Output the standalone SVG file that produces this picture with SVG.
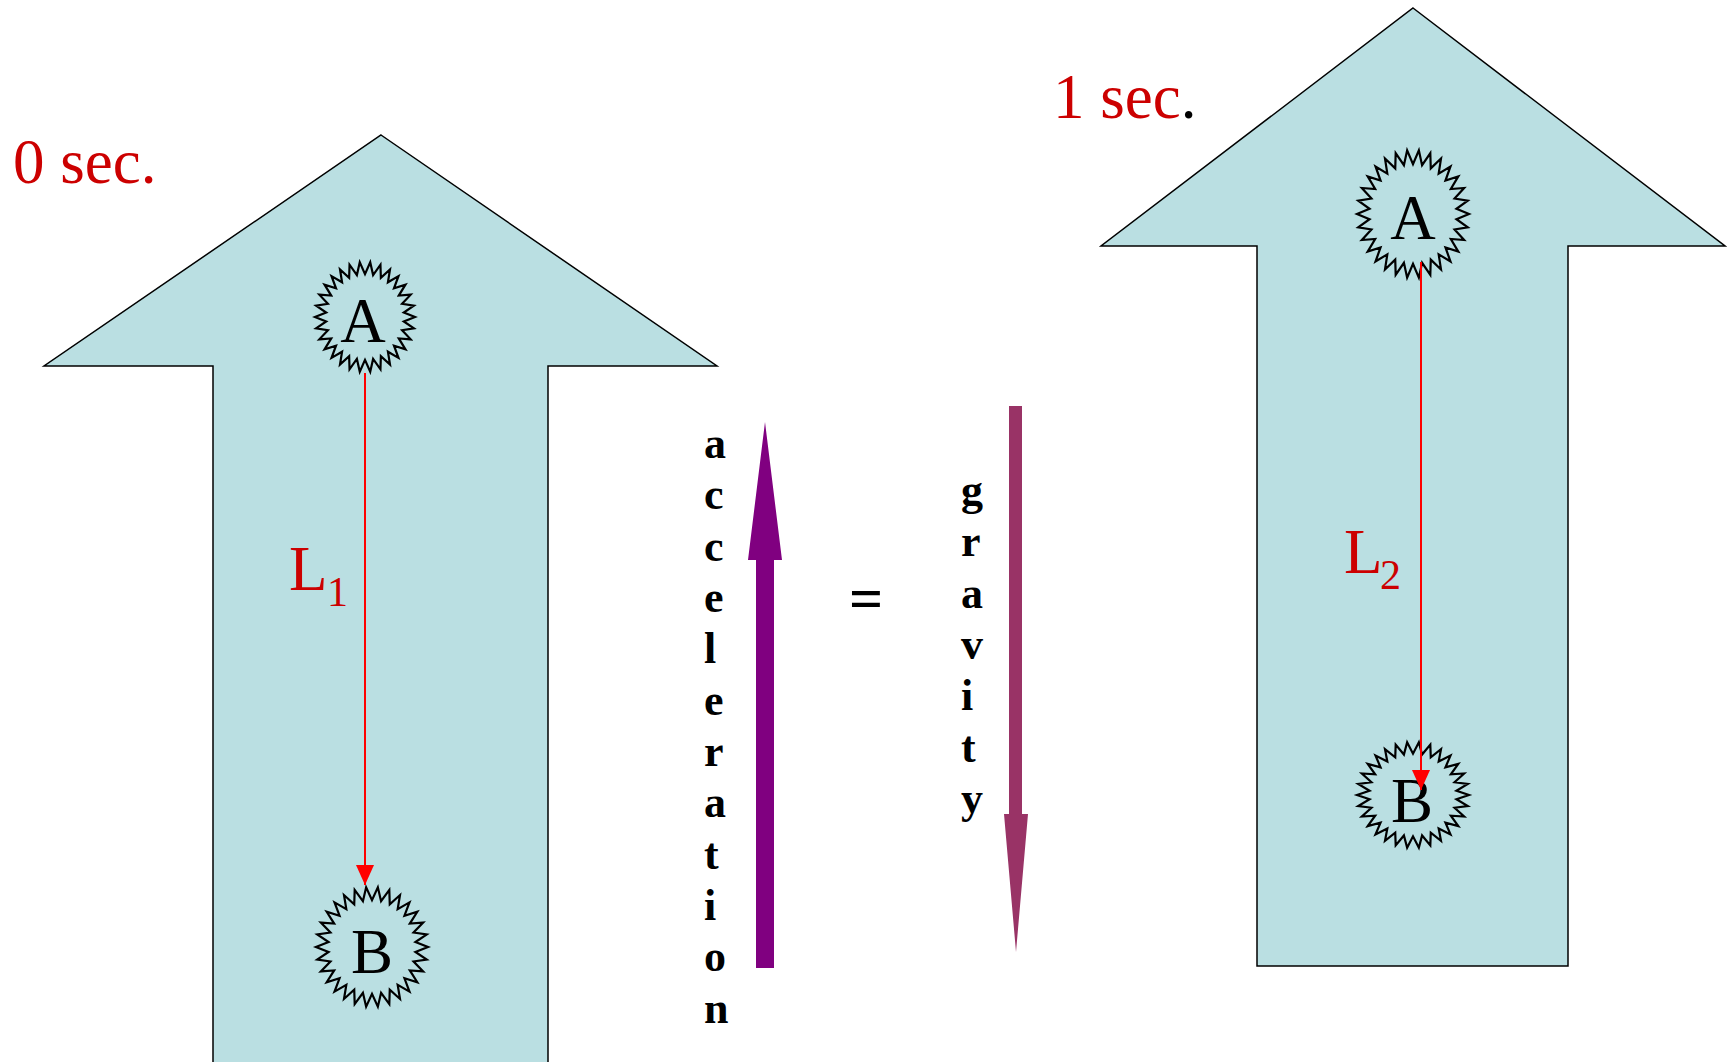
<svg xmlns="http://www.w3.org/2000/svg" xmlns:xlink="http://www.w3.org/1999/xlink" width="1727" height="1062" viewBox="0 0 1727 1062">
<style>
.big{fill:#BADFE2;stroke:#000;stroke-width:1.5}
.star{fill:none;stroke:#000;stroke-width:2.2}
.lbl{font-family:"Liberation Serif",serif;font-size:63px;fill:#000;text-anchor:middle}
.red{font-family:"Liberation Serif",serif;fill:#CC0000}
.vert{font-family:"Liberation Serif",serif;font-size:44px;font-weight:bold;fill:#000}
.rl{stroke:#FF0000;stroke-width:2;fill:none}
</style>
<defs>
<polygon id="star" vector-effect="non-scaling-stroke" points="100,0 77.57,8.15 97.81,20.79 74.19,24.10 91.35,40.67 67.55,39 80.90,58.78 57.96,52.19 66.91,74.31 45.85,63.10 50,86.60 31.72,71.25 30.90,95.11 16.22,76.29 10.45,99.45 0,78 -10.45,99.45 -16.22,76.29 -30.90,95.11 -31.72,71.25 -50,86.60 -45.85,63.10 -66.91,74.31 -57.96,52.19 -80.90,58.78 -67.55,39 -91.35,40.67 -74.19,24.10 -97.81,20.79 -77.57,8.15 -100,0 -77.57,-8.15 -97.81,-20.79 -74.19,-24.10 -91.35,-40.67 -67.55,-39 -80.90,-58.78 -57.96,-52.19 -66.91,-74.31 -45.85,-63.10 -50,-86.60 -31.72,-71.25 -30.90,-95.11 -16.22,-76.29 -10.45,-99.45 0,-78 10.45,-99.45 16.22,-76.29 30.90,-95.11 31.72,-71.25 50,-86.60 45.85,-63.10 66.91,-74.31 57.96,-52.19 80.90,-58.78 67.55,-39 91.35,-40.67 74.19,-24.10 97.81,-20.79 77.57,-8.15"/>
<marker id="ah" markerUnits="userSpaceOnUse" markerWidth="20" markerHeight="20" viewBox="0 0 20 20" refX="20" refY="10" orient="auto">
<path d="M0,1 L20,10 L0,19 Z" fill="#FF0000"/>
</marker>
</defs>

<g id="arrow-0sec">
<polygon class="big" points="381,135 717,366 548,366 548,1070 213,1070 213,366 44,366"/>
</g>
<g id="arrow-1sec">
<polygon class="big" points="1413,8 1725,246 1568,246 1568,966 1257,966 1257,246 1101,246"/>
</g>

<g id="label-0sec"><text class="red" x="13" y="183" font-size="63">0 sec.</text></g>
<g id="label-1sec"><text class="red" x="1053" y="118" font-size="63">1 sec<tspan fill="#000">.</tspan></text></g>

<g id="node-A1">
<use xlink:href="#star" class="star" transform="translate(365,317) scale(0.5,0.55)"/>
<text class="lbl" x="363" y="342">A</text>
</g>
<g id="node-B1">
<use xlink:href="#star" class="star" transform="translate(372,947) scale(0.56,0.6)"/>
<text class="lbl" x="372" y="973">B</text>
</g>
<g id="node-A2">
<use xlink:href="#star" class="star" transform="translate(1413,214) scale(0.56,0.64)"/>
<text class="lbl" x="1413" y="239">A</text>
</g>
<g id="node-B2">
<use xlink:href="#star" class="star" transform="translate(1413,795) scale(0.56,0.53)"/>
<text class="lbl" x="1412" y="822">B</text>
</g>

<g id="connectors">
<line class="rl" x1="365" y1="373" x2="365" y2="885" marker-end="url(#ah)"/>
<line class="rl" x1="1421" y1="262" x2="1421" y2="790" marker-end="url(#ah)"/>
</g>

<g id="label-L1">
<text class="red" x="289" y="590" font-size="63">L</text>
<text class="red" x="327" y="606" font-size="42">1</text>
</g>
<g id="label-L2">
<text class="red" x="1344" y="573" font-size="63">L</text>
<text class="red" x="1380" y="589" font-size="42">2</text>
</g>

<g id="acceleration">
<polygon fill="#800080" points="765,422 782,560 774,560 774,968 756,968 756,560 748,560"/>
<text class="vert" x="704" y="458">a</text>
<text class="vert" x="704" y="509">c</text>
<text class="vert" x="704" y="561">c</text>
<text class="vert" x="704" y="612">e</text>
<text class="vert" x="704" y="663">l</text>
<text class="vert" x="704" y="715">e</text>
<text class="vert" x="704" y="766">r</text>
<text class="vert" x="704" y="817">a</text>
<text class="vert" x="704" y="869">t</text>
<text class="vert" x="704" y="920">i</text>
<text class="vert" x="704" y="971">o</text>
<text class="vert" x="704" y="1023">n</text>
</g>

<g id="equals"><text class="vert" x="866" y="618" text-anchor="middle" style="font-size:60px">=</text></g>

<g id="gravity">
<polygon fill="#993366" points="1009,406 1022,406 1022,814 1028,814 1016,952 1004,814 1009,814"/>
<text class="vert" x="961" y="505">g</text>
<text class="vert" x="961" y="556">r</text>
<text class="vert" x="961" y="608">a</text>
<text class="vert" x="961" y="659">v</text>
<text class="vert" x="961" y="710">i</text>
<text class="vert" x="961" y="762">t</text>
<text class="vert" x="961" y="813">y</text>
</g>
</svg>
